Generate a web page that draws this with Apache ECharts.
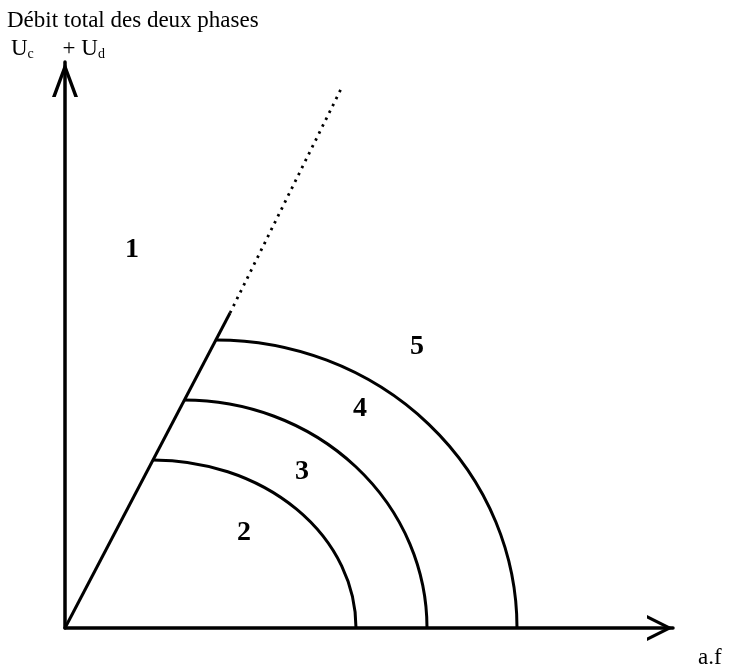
<!DOCTYPE html>
<html>
<head>
<meta charset="utf-8">
<script src="https://cdn.jsdelivr.net/npm/echarts@6/dist/echarts.min.js"></script>
<style>
  html, body { margin: 0; padding: 0; background: #fff; }
  #chart { width: 731px; height: 668px; }
</style>
</head>
<body>
<div id="chart"></div>
<script>
// boundary line leaving the origin: solid part, then dotted extension
const lineSolid = [[0, 0], [165, 315]];
const lineDotted = [[165, 315], [277, 541]];

// quarter-ellipse boundaries: start point on the line (x, y) and where they hit the x axis
const arcStartX = [88, 119, 151];
const arcTopY = [168, 228, 288];
const arcEndX = [291, 362, 452];

// region numbers and where they sit
const regionNames = ['1', '2', '3', '4', '5'];
const regionX = [67, 179, 237, 295, 352];
const regionY = [378, 95, 156, 219, 281];

const yTitle = 'Débit total des deux phases';
const xName = 'a.f';

const serif = '"Liberation Serif", "DejaVu Serif", serif';
const xArrow = 'path://M0 26 L13 0 L26 26 L22.5 26 L13 7 L3.5 26 Z';
const yArrow = 'path://M0 35 L13 0 L26 35 L22.3 35 L13 9.5 L3.7 35 Z';

const arcData = arcStartX.map((x, i) => [x, arcTopY[i], arcEndX[i]]);
const regionData = regionNames.map((n, i) => ({name: n, value: [regionX[i], regionY[i]]}));

const chart = echarts.init(document.getElementById('chart'));
chart.setOption({
  animation: false,
  backgroundColor: '#fff',
  title: [
    {
      text: yTitle,
      left: 2,
      top: 4,
      textStyle: {fontFamily: serif, fontSize: 23, fontWeight: 'normal', color: '#000'}
    },
    {
      text: '{u|U}{s|c}{u|     + U}{s|d}',
      left: 6,
      top: 32,
      textStyle: {
        fontWeight: 'normal',
        rich: {
          u: {fontFamily: serif, fontSize: 23, fontWeight: 'normal', color: '#000'},
          s: {fontFamily: serif, fontSize: 14, fontWeight: 'normal', color: '#000', padding: [10, 0, 0, 0]}
        }
      }
    },
    {
      text: xName,
      left: 693,
      top: 641,
      textStyle: {fontFamily: serif, fontSize: 23, fontWeight: 'normal', color: '#000'}
    }
  ],
  grid: {left: 65, right: 58, top: 62, bottom: 40},
  xAxis: {
    type: 'value',
    min: 0,
    max: 608,
    axisLine: {
      lineStyle: {color: '#000', width: 3.5},
      symbol: ['none', xArrow],
      symbolSize: [26, 26],
      symbolOffset: [0, -13]
    },
    axisTick: {show: false},
    axisLabel: {show: false},
    splitLine: {show: false}
  },
  yAxis: {
    type: 'value',
    min: 0,
    max: 566,
    axisLine: {
      lineStyle: {color: '#000', width: 3.5},
      symbol: ['none', yArrow],
      symbolSize: [26, 35],
      symbolOffset: [0, -17.5]
    },
    axisTick: {show: false},
    axisLabel: {show: false},
    splitLine: {show: false}
  },
  series: [
    {
      type: 'line',
      data: lineSolid,
      symbol: 'none',
      lineStyle: {color: '#000', width: 3}
    },
    {
      type: 'line',
      data: lineDotted,
      symbol: 'none',
      lineStyle: {color: '#000', width: 2.8, type: [2.5, 5.2]}
    },
    {
      type: 'custom',
      coordinateSystem: 'cartesian2d',
      data: arcData,
      encode: {x: [0, 2], y: 1},
      renderItem: function (params, api) {
        const top = api.coord([api.value(0), api.value(1)]);
        const end = api.coord([api.value(2), 0]);
        const rx = end[0] - top[0];
        const ry = end[1] - top[1];
        return {
          type: 'path',
          shape: {
            pathData: 'M' + top[0] + ' ' + top[1] + ' A' + rx + ' ' + ry + ' 0 0 1 ' + end[0] + ' ' + end[1]
          },
          style: {fill: 'none', stroke: '#000', lineWidth: 3}
        };
      }
    },
    {
      type: 'scatter',
      data: regionData,
      symbolSize: 0,
      itemStyle: {opacity: 1},
      label: {
        show: true,
        position: 'inside',
        formatter: '{b}',
        fontFamily: serif,
        fontSize: 28,
        fontWeight: 'bold',
        color: '#000'
      }
    }
  ]
});
</script>
</body>
</html>
